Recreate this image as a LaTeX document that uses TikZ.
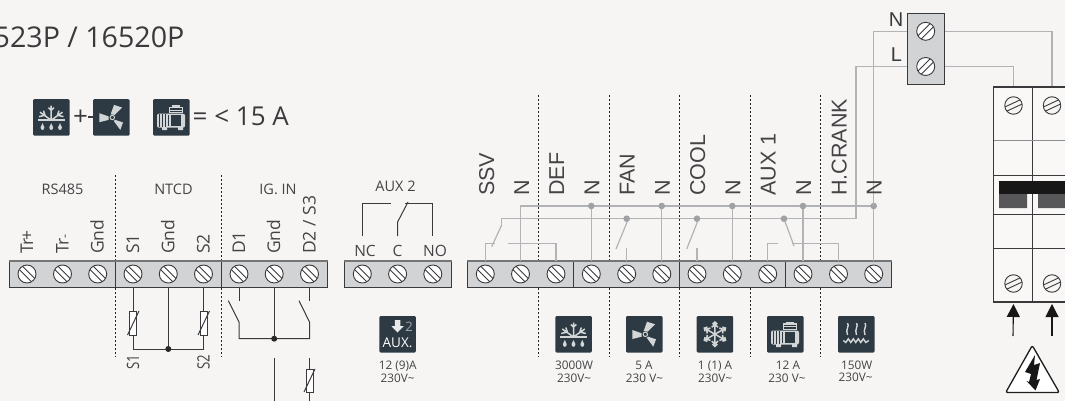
\documentclass[tikz,border=0pt]{standalone}
\usepackage{fontspec}
\setmainfont{Open Sans}
\newfontfamily\arialf{Liberation Sans}
\usetikzlibrary{arrows.meta,calc}
\definecolor{bgc}{HTML}{F6F5F3}
\definecolor{blockc}{HTML}{D2D3D5}
\definecolor{inkc}{HTML}{3A3A3C}
\definecolor{labc}{HTML}{444446}
\definecolor{wirec}{HTML}{B1B3B6}
\definecolor{iconc}{HTML}{2D3A43}
\definecolor{glyphc}{HTML}{D3D6D7}
\newcommand{\fsz}[1]{\fontsize{#1}{#1}\selectfont}
\tikzset{
  x=1pt,y=-1pt,
  screw/.style={circle,draw=inkc,line width=.9pt,fill=white,minimum size=18pt,inner sep=0pt,
    path picture={
      \coordinate (pc) at (path picture bounding box.center);
      \draw[inkc,line width=.9pt]
        ($(pc)+({12*cos(#1)-2.3*sin(#1)},{12*sin(#1)+2.3*cos(#1)})$) -- ($(pc)+({-12*cos(#1)-2.3*sin(#1)},{-12*sin(#1)+2.3*cos(#1)})$)
        ($(pc)+({12*cos(#1)+2.3*sin(#1)},{12*sin(#1)-2.3*cos(#1)})$) -- ($(pc)+({-12*cos(#1)+2.3*sin(#1)},{-12*sin(#1)-2.3*cos(#1)})$);}},
  block/.style={draw=inkc,line width=1pt,fill=blockc,inner sep=0pt},
  wire/.style={wirec,line width=1.2pt},
  dwire/.style={inkc,line width=1pt},
  sep/.style={inkc!60!black,line width=1.4pt,dash pattern=on 1.7pt off 2.3pt},
  divider/.style={inkc,line width=1pt},
  gdot/.style={circle,fill=wirec!90!black,inner sep=0pt,minimum size=6.6pt},
  kdot/.style={circle,fill=inkc!70!black,inner sep=0pt,minimum size=6pt},
  sml/.style={labc,inner sep=0pt,font=\fsz{14.5}},
  up/.style={labc,inner sep=0pt,rotate=90,anchor=base west,font=\fsz{17.5}},
  bigup/.style={labc,inner sep=0pt,rotate=90,anchor=base west,font=\arialf\fsz{21.5}},
  rating/.style={labc,inner sep=0pt,align=center,font=\fsz{11.8},anchor=base},
  ttl/.style={inkc,inner sep=0pt,anchor=base},
  tile/.style={fill=iconc,rounded corners=1.2pt},
  glyph/.style={glyphc,line width=1.2pt},
  pics/defrost/.style={code={
    \fill[tile] (0,0) rectangle (36.5,36.5);
    \draw[glyph,line width=1.6pt] (4.5,21) -- (32,21);
    \draw[glyph,line width=1.5pt] (18.2,21) -- (18.2,6.5) (18.2,21) -- (7,13) (18.2,21) -- (29.5,13)
      (15.5,8.5) -- (18.2,11) -- (21,8.5) (6,17.5) -- (12,16) -- (10.5,11.5) (30.5,17.5) -- (24.5,16) -- (26,11.5);
    \foreach \dx in {9.5,18.2,27}{\fill[glyphc] (\dx,24) -- (\dx+1.9,28) -- (\dx+1.5,30) -- (\dx,30.8) -- (\dx-1.5,30) -- (\dx-1.9,28) -- cycle;}
  }},
  pics/fan/.style={code={
    \fill[tile] (0,0) rectangle (36.5,36.5);
    \fill[glyphc] (17.7,15) -- (21,5.7) -- (29,8.3) -- (21.7,15.7) -- cycle;
    \fill[glyphc] (15.7,17.3) -- (6.3,14) -- (6.3,23) -- (15.7,20.7) -- cycle;
    \fill[glyphc] (22.3,20.7) -- (30,23.3) -- (27.3,30.7) -- (20.7,21.7) -- cycle;
    \draw[glyphc,line width=1pt] (19.3,18.3) circle (2.2);
  }},
  pics/flake/.style={code={
    \fill[tile] (0,0) rectangle (36.5,36.5);
    \foreach \a in {30,90,150,210,270,330}{
      \begin{scope}[shift={(18.2,18.2)},rotate=\a]
        \draw[glyph,line width=1.5pt] (0,0) -- (12.5,0) (7,-3.2) -- (9.5,0) -- (7,3.2) (10,-2.4) -- (12.2,0) -- (10,2.4);
      \end{scope}}
  }},
  pics/compr/.style={code={
    \fill[tile] (0,0) rectangle (36.5,36.5);
    \fill[glyphc,rounded corners=2pt] (4,14.5) rectangle (32,28.5);
    \fill[glyphc] (9,28) rectangle (14,31) (25,28) rectangle (30,31);
    \draw[iconc,line width=.9pt] (6.8,15) -- (6.8,28) (9.5,15) -- (9.5,28) (12.2,15) -- (12.2,28);
    \fill[iconc] (15,16) rectangle (29.5,27);
    \draw[glyphc,line width=1.2pt] (17,27.5) -- (17,15) (29,15) -- (29,27.5);
    \draw[glyphc,line width=1.2pt] (16.5,13.5) rectangle (29.5,8);
    \fill[glyphc] (19,6) rectangle (27,8);
    \draw[glyphc,line width=.8pt] (16.5,10.8) -- (29.5,10.8);
  }},
  pics/heater/.style={code={
    \fill[tile] (0,0) rectangle (36.5,36.5);
    \foreach \dx in {9.5,18.5,27}{
      \draw[glyph,line width=1.4pt] (\dx,7) .. controls (\dx+2.5,10) and (\dx-2.5,13) .. (\dx,19);}
    \draw[glyph,line width=1.4pt] (5.3,24.5) -- (7.8,26.5) -- (10.3,22.8) -- (12.8,26.5) -- (15.3,22.8) -- (17.8,26.5) -- (20.3,22.8) -- (22.8,26.5) -- (25.3,22.8) -- (27.8,26.5) -- (30.8,24.5);
  }},
  pics/auxtile/.style={code={
    \fill[tile] (0,0) rectangle (36.5,36.5);
    \fill[glyphc!50!white] (15.5,4) rectangle (21,10) (12,10) -- (24.5,10) -- (18.2,16.5) -- cycle;
    \node[inner sep=0pt,anchor=base,text=glyphc!70!iconc,font=\fsz{13}] (aux-two) at (29.7,15.5) {2};
    \node[inner sep=0pt,anchor=base,text=white,font=\fsz{13.5}] (aux-word) at (18.2,31) {AUX.};
  }},
}
\begin{document}
\begin{tikzpicture}
\fill[bgc] (0,0) rectangle (1065,401);
\clip (0,0) rectangle (1065,401);
\useasboundingbox (0,0) rectangle (1065,401);

% title row
\node[ttl,anchor=base east,font=\fsz{28.6}] (title) at (184.5,47.5) {523P / 16520P};
\node[ttl,font=\fsz{26}] (plus) at (80.5,125) {+};
\draw[inkc,line width=1.2pt] (88,117) -- (94,117);
\pic at (33,99.2) {defrost};
\pic at (93,99.2) {fan};
\pic at (153,99.2) {compr};
\node[ttl,anchor=base west,font=\fsz{26}] (limit) at (192.5,125) {= < 15 A};

% dotted separators
\foreach \n/\x in {a/115.5,b/221.5}{
  \draw[sep] (\x,175) -- (\x,262) (\x,288) -- (\x,357);}
\foreach \n/\x in {c/538.5,d/609.5,e/679.5,f/750.5,g/820.5}{
  \draw[sep] (\x,95) -- (\x,262) (\x,288) -- (\x,357);}

% terminal blocks
\node[block,minimum width=318pt,minimum height=25.6pt] (blkA) at (168.5,274.5) {};
\node[block,minimum width=106.5pt,minimum height=25.6pt] (blkB) at (397.8,274.5) {};
\node[block,minimum width=424.2pt,minimum height=25.6pt] (blkC) at (679.6,274.5) {};
\node[block,minimum width=37pt,minimum height=71pt] (blkN) at (925.8,49) {};
\foreach \b in {blkA,blkB,blkC}{\draw[inkc!70!white,line width=1.6pt] (\b.north west) -- (\b.north east);}
\draw[divider] (115.5,261.7) -- (115.5,287.3);
\draw[divider] (221.5,261.7) -- (221.5,287.3);
\draw[divider] (573.5,261.7) -- (573.5,287.3);
\draw[divider] (679.5,261.7) -- (679.5,287.3);
\draw[divider] (785.5,261.7) -- (785.5,287.3);

\foreach \n/\x in {1/27,2/62.5,3/97.7,4/133,5/168.3,6/203.5,7/239,8/274.2,9/309.5}{
  \node[screw=45] (s\n) at (\x,274) {};}
\foreach \n/\x in {1/362.3,2/397.6,3/432.8}{
  \node[screw=45] (a\n) at (\x,274) {};}
\foreach \n/\x in {1/485.3,2/520.5,3/556,4/591.3,5/626.7,6/661.8,7/697,8/732.3,9/767.7,10/803,11/838.5,12/873.7}{
  \node[screw=45] (m\n) at (\x,274) {};}
\node[screw=-45] (nN) at (925.7,31.3) {};
\node[screw=-45] (nL) at (925.7,66.5) {};

% circuit breaker
\node[draw=inkc,line width=1.2pt,fill=bgc!70!white,inner sep=0pt,minimum width=90pt,minimum height=215pt] (brk) at (1038.7,194.5) {};
\foreach \n/\x/\y in {1/1013.5/105.5,2/1052/105.5,3/1013.5/283.5,4/1052/283.5}{
  \node[screw=-25,fill=bgc,minimum size=17.5pt] (b\n) at (\x,\y) {};}
\draw[inkc,line width=1.1pt] (1032.5,87) -- (1032.5,302);
\draw[wirec!80!black,line width=1pt] (993.7,141) -- (1075,141);
\draw[inkc,line width=1pt] (993.7,175) -- (1075,175) (993.7,214) -- (1075,214) (993.7,248) -- (1075,248);
\fill[inkc!40!black] (999,181) rectangle (1075,194);
\fill[inkc!85!white] (999,194) rectangle (1027,208) (1038,194) rectangle (1075,208);
\draw[inkc,line width=1.1pt] (1032.5,194) -- (1032.5,214);

% NTC wiring
\coordinate (ntcJ) at (168.3,349);
\draw[dwire] (s4 |- blkA.south) -- (s4 |- ntcJ) -- (s6 |- ntcJ) -- (s6 |- blkA.south);
\draw[dwire] (s5 |- blkA.south) -- (ntcJ);
\node[kdot] (ntcDot) at (ntcJ) {};
\node[draw=inkc,fill=white,line width=.9pt,minimum width=7pt,minimum height=24pt,inner sep=0pt] (rS1) at (133,323) {};
\node[draw=inkc,fill=white,line width=.9pt,minimum width=7pt,minimum height=24pt,inner sep=0pt] (rS2) at (203.5,323) {};
\draw[dwire] (127.5,335) -- (139,311);
\draw[dwire] (198,335) -- (209.5,311);
\node[up,font=\fsz{17}] (lbS1) at (139,369.5) {\scalebox{.78}[1]{S1}};
\node[up,font=\fsz{17}] (lbS2) at (209.5,369.5) {\scalebox{.78}[1]{S2}};

% digital inputs
\coordinate (digJ) at (274.2,338.7);
\draw[dwire] (s7 |- blkA.south) -- (239,300.5);
\draw[dwire] (228.3,300.7) -- (239,322) -- (s7 |- digJ) -- (s9 |- digJ) -- (309.5,322) -- (299,300.7);
\draw[dwire] (s9 |- blkA.south) -- (309.5,300.5);
\draw[dwire] (s8 |- blkA.south) -- (digJ);
\node[kdot] (digDot) at (digJ) {};
\coordinate (lowG) at (274.2,358);
\coordinate (lowT) at (309.5,358);
\draw[dwire] (lowG) -- (274.2,401);
\draw[dwire] (lowT) -- (309.5,401);
\node[draw=inkc,fill=white,line width=.9pt,minimum width=7pt,minimum height=23pt,inner sep=0pt] (rS3) at (309.5,380.5) {};
\draw[dwire] (304,392) -- (315,369);

% relay AUX 2
\draw[dwire] (a1 |- 0,236) -- (a1 |- 0,203.7) -- (391,203.7);
\draw[dwire] (a2 |- 0,236) -- (a2 |- 0,222) -- (408,202);
\draw[dwire] (405,203.7) -- (a3 |- 0,203.7) -- (a3 |- 0,236);

% mains wiring
\coordinate (busN) at (873.7,206);
\coordinate (busL) at (856,218.7);
\draw[wire] (m2 |- blkC.north) -- (m2 |- busN) -- (busN);
\foreach \m in {m4,m6,m8,m10,m12}{
  \draw[wire] (\m |- blkC.north) -- (\m |- busN);
  \node[gdot] at (\m |- busN) {};}
\draw[wire] (m12 |- busN) -- (m12 |- nN) -- (nN -| blkN.west);
\draw[wire] (501.7,225) -- (501.7,218.7) -- (busL) -- (856,66.5) -- (nL -| blkN.west);
\draw[wire] (nN -| blkN.east) -- (b2 |- nN) -- (b2 |- brk.north);
\draw[wire] (nL -| blkN.east) -- (b1 |- nL) -- (b1 |- brk.north);
% SSV / DEF
\draw[wire] (501.7,225) -- (491.7,246.7);
\draw[wire] (m1 |- blkC.north) -- (m1 |- 0,243.7) -- (495,243.7);
\draw[wire] (508.3,243.7) -- (m3 |- 0,243.7) -- (m3 |- blkC.north);
% FAN
\draw[wire] (626.7,218.7) -- (626.7,223) -- (616,249);
\draw[wire] (m5 |- blkC.north) -- (626.7,248.3);
\node[gdot] at (626.7,218.7) {};
% COOL
\draw[wire] (697,218.7) -- (697,223) -- (686.7,249);
\draw[wire] (m7 |- blkC.north) -- (697,248.3);
\node[gdot] at (697,218.7) {};
% AUX 1
\draw[wire] (784,218.7) -- (794,246);
\draw[wire] (m9 |- blkC.north) -- (m9 |- 0,243.7) -- (777.7,243.7);
\draw[wire] (791.7,243.7) -- (m11 |- 0,243.7) -- (m11 |- blkC.north);
\node[gdot] at (784,218.7) {};

% group labels
\node[sml,anchor=base] (gRS) at (62.5,194.5) {RS485};
\node[sml,anchor=base] (gNT) at (173.5,194.5) {NTCD};
\node[sml,anchor=base] (gIG) at (278,194.5) {IG. IN};
\node[sml,anchor=base] (gAX) at (395.5,191.5) {AUX 2};

% terminal labels, left
\node[up] (tA) at (33,254) {T\kern-1.6pt r\kern-1.8pt +};
\node[up] (tB) at (68.5,254) {T\kern-1pt r\kern-.5pt\raisebox{0pt}{\scalebox{.7}{-}}};
\node[up] (tC) at (103.5,254) {Gnd};
\node[up] (tD) at (139,254) {S1};
\node[up] (tE) at (174.3,254) {Gnd};
\node[up] (tF) at (209.5,254) {S2};
\node[up] (tG) at (245,254) {D1};
\node[up] (tH) at (280.2,254) {Gnd};
\node[up] (tI) at (315.5,254) {D2 / S3};

\node[sml,anchor=base,font=\fsz{15.5}] (tNC) at (365,256.7) {NC};
\node[sml,anchor=base,font=\fsz{15.5}] (tCC) at (397.6,256.7) {C};
\node[sml,anchor=base,font=\fsz{15.5}] (tNO) at (435,256.7) {NO};

% terminal labels, right
\foreach \n/\x/\t in {1/494/SSV,2/529/N,3/564/DEF,4/599.3/N,5/634.7/FAN,6/669.8/N,7/705/COOL,8/740.3/N,9/775.7/AUX 1,10/811/N,11/846.5/H.CRANK,12/881.7/N}{
  \node[bigup] (u\n) at (\x,196) {\t};}

\node[inkc,inner sep=0pt,font=\arialf\fsz{20},anchor=base] (lN) at (896,27) {N};
\node[inkc,inner sep=0pt,font=\arialf\fsz{20},anchor=base] (lL) at (896.5,62) {L};

% bottom tiles
\pic at (379.3,316) {auxtile};
\pic at (555.3,316) {defrost};
\pic at (626,316) {fan};
\pic at (696.7,316) {flake};
\pic at (767,316) {compr};
\pic at (838,316) {heater};
\node[rating] (r1a) at (397.7,369) {12 (9)A};
\node[rating] (r1b) at (397.7,382) {230V\char`~};
\node[rating] (r2a) at (574,369) {3000W};
\node[rating] (r2b) at (574,382) {230V\char`~};
\node[rating] (r3a) at (644,369) {5 A};
\node[rating] (r3b) at (644.5,382) {230 V\char`~};
\node[rating] (r4a) at (715,369) {1 (1) A};
\node[rating] (r4b) at (715,382) {230V\char`~};
\node[rating] (r5a) at (788,369) {12 A};
\node[rating] (r5b) at (787,382) {230 V\char`~};
\node[rating] (r6a) at (856.7,369) {150W};
\node[rating] (r6b) at (855.7,381) {230V\char`~};

% feed arrows and warning sign
\coordinate (fa) at (1013,336);
\coordinate (fb) at (1052,336);
\draw[inkc!40!black,line width=1.1pt,-{Triangle[length=13pt,width=13pt]}] (fa) -- (b3 |- 0,304);
\draw[inkc!40!black,line width=1.1pt,-{Triangle[length=13pt,width=13pt]}] (fb) -- (b4 |- 0,304);
\draw[inkc!50!black,fill=white,line width=1.3pt,line join=round,rounded corners=2pt] (1032.3,345.5) -- (1059.3,392.5) -- (1005.7,392.5) -- cycle;
\fill[inkc!40!black] (1035,355) -- (1025,372) -- (1031,374) -- (1029,382) -- (1026.5,381) -- (1035.5,390.5) -- (1040,379) -- (1036.5,380) -- (1040,363) -- (1034,365) -- cycle;
\end{tikzpicture}
\end{document}
